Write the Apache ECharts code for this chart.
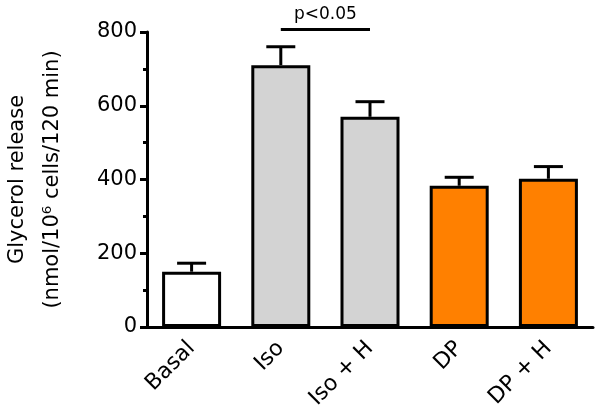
<!DOCTYPE html>
<html>
<head>
<meta charset="utf-8">
<script src="https://cdn.jsdelivr.net/npm/echarts@6/dist/echarts.min.js"></script>
<style>html,body{margin:0;padding:0;background:#fff}#c{width:600px;height:416px}</style>
</head>
<body>
<div id="c"></div>
<script>
var categories = ['Basal', 'Iso', 'Iso + H', 'DP', 'DP + H'];
var means = [150, 710, 570, 383, 402];
var errors = [23, 50, 41, 23, 33];
var barColors = ['#ffffff', '#d3d3d3', '#d3d3d3', '#ff8000', '#ff8000'];
var yTicks = [0, 200, 400, 600, 800];
var sigPair = [1, 2];
var sigLevel = 807;
var sigText = 'p<0.05';

var FONT = 'DejaVu Sans';
var chart = echarts.init(document.getElementById('c'), null, {renderer: 'canvas'});

var barData = means.map(function (v, i) {
  return {value: v, itemStyle: {color: barColors[i]}};
});
var errData = means.map(function (v, i) { return [i, v, errors[i]]; });

chart.setOption({
  animation: false,
  grid: {left: 147, right: 7, top: 32, bottom: 89, containLabel: false, outerBoundsMode: 'none'},
  xAxis: {
    type: 'category',
    data: categories,
    boundaryGap: true,
    axisLine: {lineStyle: {color: '#000', width: 3}},
    axisTick: {alignWithLabel: true, length: 7, lineStyle: {color: '#000', width: 3}},
    axisLabel: {rotate: 45, margin: 18, color: '#000', fontFamily: FONT, fontSize: 22, interval: 0}
  },
  yAxis: {
    type: 'value',
    min: yTicks[0],
    max: yTicks[yTicks.length - 1],
    interval: 200,
    name: 'Glycerol release\n(nmol/10\u2076 cells/120 min)',
    nameLocation: 'middle',
    nameRotate: 90,
    nameGap: 77,
    nameTextStyle: {color: '#000', fontFamily: FONT, fontSize: 21, lineHeight: 35},
    axisLine: {show: true, lineStyle: {color: '#000', width: 3}},
    axisTick: {show: true, length: 7, lineStyle: {color: '#000', width: 3}},
    minorTick: {show: true, splitNumber: 2, length: 4, lineStyle: {color: '#000', width: 3}},
    splitLine: {show: false},
    axisLabel: {margin: 10, color: '#000', fontFamily: FONT, fontSize: 21}
  },
  series: [
    {
      type: 'bar',
      data: barData,
      barWidth: 59,
      itemStyle: {borderColor: '#000', borderWidth: 3},
      z: 2
    },
    {
      type: 'custom',
      data: errData,
      z: 3,
      clip: false,
      renderItem: function (params, api) {
        var x = api.value(0);
        var top = api.coord([x, api.value(1) + api.value(2)]);
        var base = api.coord([x, api.value(1)]);
        var half = 14.5;
        var st = {stroke: '#000', lineWidth: 3};
        return {
          type: 'group',
          children: [
            {type: 'line', shape: {x1: top[0], y1: base[1], x2: top[0], y2: top[1]}, style: st},
            {type: 'line', shape: {x1: top[0] - half, y1: top[1], x2: top[0] + half, y2: top[1]}, style: st}
          ]
        };
      }
    },
    {
      type: 'custom',
      data: [[sigPair[0], sigPair[1], sigLevel]],
      z: 3,
      clip: false,
      renderItem: function (params, api) {
        var a = api.coord([api.value(0), api.value(2)]);
        var b = api.coord([api.value(1), api.value(2)]);
        return {
          type: 'group',
          children: [
            {type: 'line', shape: {x1: a[0], y1: a[1], x2: b[0], y2: b[1]}, style: {stroke: '#000', lineWidth: 3}},
            {type: 'text', x: (a[0] + b[0]) / 2, y: a[1] - 6,
              style: {text: sigText, fill: '#000', font: '17px "DejaVu Sans"', align: 'center', verticalAlign: 'bottom'}}
          ]
        };
      }
    }
  ]
});
</script>
</body>
</html>
